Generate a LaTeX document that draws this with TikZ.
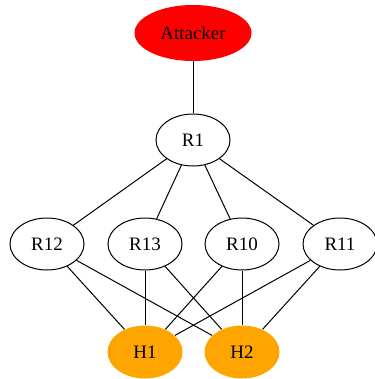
\documentclass[tikz,border=0pt]{standalone}
\usepackage{fontspec}
\setmainfont{Liberation Serif}
\usepackage{tikz}
\usetikzlibrary{shapes.geometric,positioning}

\tikzset{
  host/.style={ellipse, draw, line width=1pt, minimum width=74pt, minimum height=52pt, inner sep=0pt},
  target/.style={ellipse, fill=hostorange, minimum width=75pt, minimum height=53pt, inner sep=0pt},
  source/.style={ellipse, fill=red, minimum width=117pt, minimum height=56pt, inner sep=0pt}
}
\definecolor{hostorange}{HTML}{FFA500}

\begin{document}
\begin{tikzpicture}[x=1pt,y=1pt,on grid,font=\fontsize{19}{21}\selectfont,line width=1pt]
  \useasboundingbox (0,0) rectangle (374,-379);
           \node[source] (att) at (193,-33) {Attacker};
           \node[host] (r1) [below=107pt of att] {R1};
           \node[host] (r13) [below left=104pt and 48pt of r1] {R13};
           \node[host] (r12) [left=98pt of r13] {R12};
           \node[host] (r10) [right=97pt of r13] {R10};
           \node[host] (r11) [right=98pt of r10] {R11};
           \node[target] (h1) [below=108pt of r13] {H1};
           \node[target] (h2) [below=108pt of r10] {H2};
            \path[draw]
            (att) edge (r1)
            (r1) edge (r12)
            (r1) edge (r13)
            (r1) edge (r10)
            (r1) edge (r11)
            (r12) edge (h1)
            (r12) edge (h2)
            (r13) edge (h1)
            (r13) edge (h2)
            (r10) edge (h1)
            (r10) edge (h2)
            (r11) edge (h1)
            (r11) edge (h2);
        \end{tikzpicture}
\end{document}
